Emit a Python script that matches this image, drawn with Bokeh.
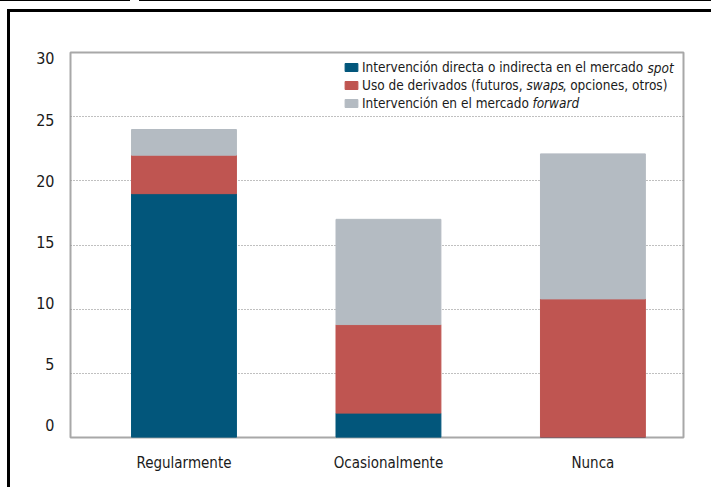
from bokeh.plotting import figure
from bokeh.layouts import column
from bokeh.models import Range1d, LinearAxis, FixedTicker, Legend, LegendItem, Label
from bokeh.embed import file_html
from bokeh.resources import INLINE

# Frequency of FX intervention, by instrument
categories = ["Regularmente", "Ocasionalmente", "Nunca"]
spot = [19, 1.9, 0]
derivados = [3, 6.9, 10.8]
forward = [2, 8.2, 11.3]
y_ticks = [0, 5, 10, 15, 20, 25, 30]
grid_ticks = [5, 10, 15, 20, 25]

# legend texts: (regular prefix, italic word, regular suffix)
legend_parts = [
    ("Intervención directa o indirecta en el mercado", "spot", ""),
    ("Uso de derivados (futuros,", "swaps", ", opciones, otros)"),
    ("Intervención en el mercado", "forward", ""),
]

colors = ["#02567b", "#bf5551", "#b4bbc2"]
FONT = "Liberation Sans Narrow, DejaVu Sans Condensed, sans-serif"

xpos = list(range(len(categories)))
data = {"x": xpos, "spot": spot, "derivados": derivados, "forward": forward}

p = figure(
    width=704, height=478,
    x_range=Range1d(-0.555, 2.443),
    y_range=Range1d(0, 30),
    output_backend="svg", toolbar_location=None,
    min_border_left=60, min_border_right=31,
    min_border_top=40, min_border_bottom=53,
)
p.margin = (9, 0, 0, 7)
p.styles = {"border-top": "3px solid #000", "border-left": "3px solid #000"}
p.background_fill_color = "white"
p.border_fill_color = "white"
p.outline_line_color = "#a8a8a8"
p.outline_line_width = 2

renderers = p.vbar_stack(
    ["spot", "derivados", "forward"], x="x", width=0.513,
    color=colors, source=data,
)

# grid
p.xgrid.visible = False
p.ygrid.ticker = FixedTicker(ticks=grid_ticks)
p.ygrid.grid_line_color = "#808080"
p.ygrid.grid_line_dash = "1 2"
p.ygrid.grid_line_width = 1

# value labels sit on their own axis, slightly inset from the frame ends
p.yaxis.visible = False
p.extra_y_ranges = {"lab": Range1d(-0.981, 30.49)}
lab_axis = LinearAxis(y_range_name="lab", ticker=FixedTicker(ticks=y_ticks))
lab_axis.axis_line_color = None
lab_axis.major_tick_line_color = None
lab_axis.minor_tick_line_color = None
lab_axis.major_label_standoff = 10
lab_axis.major_label_text_font = FONT
lab_axis.major_label_text_font_size = "16px"
lab_axis.major_label_text_color = "#1a1a1a"
p.add_layout(lab_axis, "left")

xa = p.xaxis[0]
xa.ticker = FixedTicker(ticks=xpos)
xa.major_label_overrides = {i: c for i, c in zip(xpos, categories)}
xa.axis_line_color = None
xa.major_tick_line_color = None
xa.minor_tick_line_color = None
xa.major_label_standoff = 10
xa.major_label_text_font = FONT
xa.major_label_text_font_size = "15px"
xa.major_label_text_color = "#1a1a1a"

LEG_SIZE = "13.5px"
legend = Legend(
    items=[LegendItem(label=parts[0], renderers=[r]) for parts, r in zip(legend_parts, renderers)],
    location=(273, 325),
)
legend.margin = 0
legend.padding = 0
legend.spacing = 0
legend.glyph_width = 16
legend.glyph_height = 10
legend.label_height = 18
legend.label_standoff = 3
legend.label_text_font = FONT
legend.label_text_font_size = LEG_SIZE
legend.label_text_color = "#1a1a1a"
legend.border_line_color = None
legend.background_fill_alpha = 0
p.add_layout(legend)

# italic words (and trailing text) of the legend entries
row_y = [28.83, 27.43, 26.03]
italic_x = [2.2665, 1.6748, 1.704]
suffix_x = [None, 1.851, None]
for (pre, ital, suf), y, xi, xs in zip(legend_parts, row_y, italic_x, suffix_x):
    p.add_layout(Label(x=xi, y=y, text=ital, text_font=FONT, text_font_size=LEG_SIZE,
                       text_font_style="italic", text_color="#1a1a1a",
                       text_baseline="middle", text_align="left"))
    if suf:
        p.add_layout(Label(x=xs, y=y, text=suf, text_font=FONT, text_font_size=LEG_SIZE,
                           text_color="#1a1a1a", text_baseline="middle", text_align="left"))

page = column(p)
page.styles = {
    "background": "linear-gradient(to right, #000 0, #000 130px, transparent 130px, "
                  "transparent 139px, #000 139px) top left / 100% 1px no-repeat",
}

open("out.html", "w").write(file_html(page, INLINE))
